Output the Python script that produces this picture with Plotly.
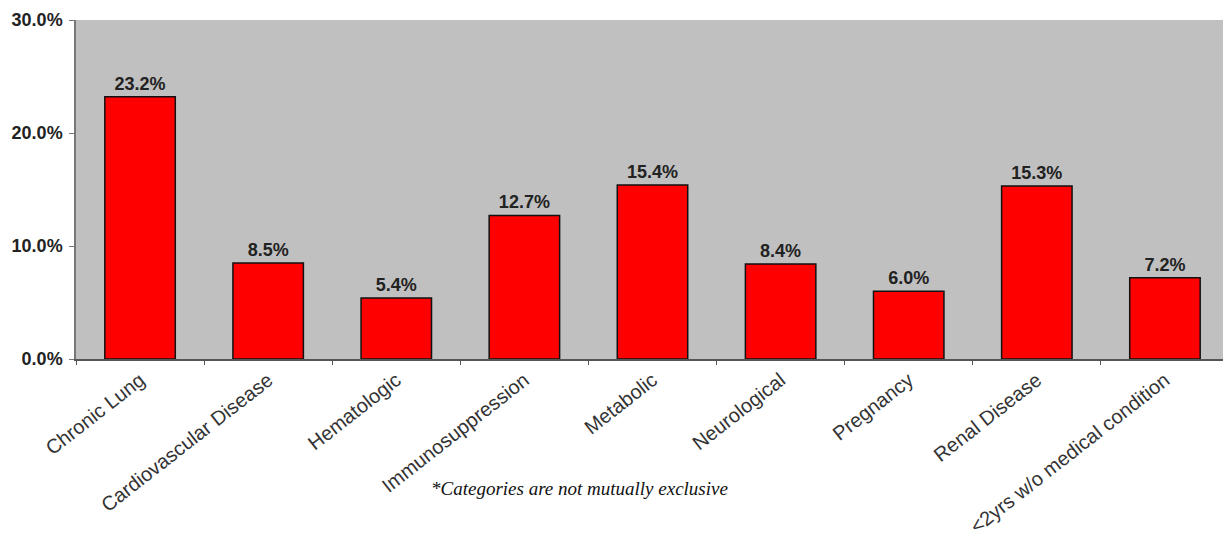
import plotly.graph_objects as go

categories = ["Chronic Lung", "Cardiovascular Disease", "Hematologic", "Immunosuppression",
              "Metabolic", "Neurological", "Pregnancy", "Renal Disease", "<2yrs w/o medical condition"]
values = [23.2, 8.5, 5.4, 12.7, 15.4, 8.4, 6.0, 15.3, 7.2]
y_ticks = [0, 10, 20, 30]
y_tick_labels = ["0.0%", "10.0%", "20.0%", "30.0%"]
note = "*Categories are not mutually exclusive"

# page body has an 8px margin; figure sized to fit the window
W, H = 1223, 528
L, R, T, B = 68, 2, 12, 177

fig = go.Figure(go.Bar(
    x=categories, y=values,
    marker=dict(color="#ff0000", line=dict(color="#111111", width=1.5)),
    text=[f"{v:.1f}%" for v in values],
    texttemplate="<b>%{text}</b>",
    textposition="outside",
    textfont=dict(family="Liberation Sans, Arial", size=18, color="#222222"),
    cliponaxis=False,
))

fig.update_layout(
    width=W, height=H,
    margin=dict(l=L, r=R, t=T, b=B, autoexpand=False),
    paper_bgcolor="white", plot_bgcolor="#c0c0c0",
    bargap=0.45, showlegend=False,
    font=dict(family="Liberation Sans, Arial", color="#222222"),
    xaxis=dict(tickangle=-38, tickfont=dict(size=20, color="#333333"),
               showline=True, linecolor="#555555", linewidth=1.5,
               ticks="outside", tickson="boundaries", ticklen=4, tickcolor="#555555",
               showgrid=False, automargin=False),
    yaxis=dict(range=[0, 30], tickvals=y_ticks, ticktext=[f"<b>{t}</b>" for t in y_tick_labels],
               tickfont=dict(size=18, color="#222222"), ticklabelstandoff=3,
               showline=True, linecolor="#777777", linewidth=1.5,
               ticks="outside", ticklen=5, tickcolor="#777777",
               showgrid=False, zeroline=False, automargin=False),
    annotations=[dict(text=f"<i>{note}</i>",
                      x=(571 - L) / (W - L - R), y=-(480 - (H - B)) / (H - B - T),
                      xref="paper", yref="paper", xanchor="center", yanchor="middle",
                      showarrow=False,
                      font=dict(family="Liberation Serif, Times New Roman", size=19, color="#111111"))],
)
fig.write_html("out.html")
